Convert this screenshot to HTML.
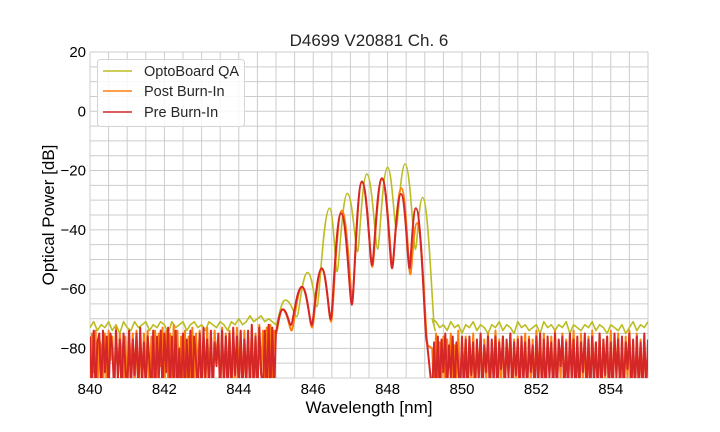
<!DOCTYPE html>
<html><head><meta charset="utf-8">
<style>
body{margin:0;background:#fff;}
svg{display:block;font-family:"Liberation Sans",Arial,sans-serif;}
</style></head>
<body>
<svg id="chart" width="720" height="432" viewBox="0 0 720 432">
  <rect width="720" height="432" fill="#fff"/>
  <g id="grid"></g>
  <g id="series" clip-path="url(#clip)"></g>
  <defs><clipPath id="clip"><rect x="90" y="52" width="558" height="326"/></clipPath></defs>
  <g id="ticks"></g>
  <text x="369" y="46" text-anchor="middle" font-size="17" fill="#262626">D4699 V20881 Ch. 6</text>
  <text x="369" y="413" text-anchor="middle" font-size="17" fill="#000">Wavelength [nm]</text>
  <text transform="translate(54,215) rotate(-90)" text-anchor="middle" font-size="17" fill="#000">Optical Power [dB]</text>
  <g>
    <rect x="97.5" y="59.5" width="147" height="67" rx="3" fill="#fff" fill-opacity="0.85" stroke="#d5d5d5"/>
    <g>
      <line x1="103" y1="71" x2="132" y2="71" stroke="#bcbd22" stroke-width="1.6"/>
      <text x="144" y="76" font-size="14.5" fill="#262626">OptoBoard QA</text>
    </g>
    <g>
      <line x1="103" y1="91" x2="132" y2="91" stroke="#ff7f0e" stroke-width="1.6"/>
      <text x="144" y="96" font-size="14.5" fill="#262626">Post Burn-In</text>
    </g>
    <g>
      <line x1="103" y1="112" x2="132" y2="112" stroke="#d62728" stroke-width="1.6"/>
      <text x="144" y="117" font-size="14.5" fill="#262626">Pre Burn-In</text>
    </g>
  </g>
</svg>
<script>
const xTickLabels=[840,842,844,846,848,850,852,854];
const yTickLabels=[20,0,-20,-40,-60,-80];
const qaPeakWl=[845.0,845.25,845.56,845.85,846.10,846.44,846.64,846.92,847.19,847.44,847.73,848.00,848.23,848.47,848.75,848.94,849.28];
const qaPeakDb=[-72,-63.7,-69.3,-54.4,-65.9,-32.7,-54.1,-27.7,-47.4,-21.2,-46.5,-18.9,-39.5,-17.8,-46.6,-29.1,-74];
const prePeakWl=[845.0,845.18,845.40,845.70,845.96,846.23,846.47,846.75,847.04,847.31,847.58,847.85,848.12,848.36,848.59,848.76,849.06];
const prePeakDb=[-74,-66.8,-72.1,-59.2,-72.1,-53,-70.2,-34.4,-65.3,-23.7,-51.9,-22.6,-53,-27.9,-53,-32.7,-78];
const postPeakWl=[845.0,845.18,845.42,845.70,845.97,846.23,846.48,846.77,847.05,847.31,847.59,847.85,848.13,848.37,848.61,848.79,849.08];
const postPeakDb=[-75,-67,-74,-59.5,-73,-53.5,-71,-33.5,-63,-24,-52.5,-23,-52,-26,-55,-37.8,-79];
const qaNoiseL=[-73,-71,-74,-72,-73,-71,-74,-72,-75,-71,-73,-74,-71,-73,-72,-71,-74,-72,-73,-71,-72,-75,-71,-73,-72,-71,-74,-72,-71,-73,-72,-74,-71,-72,-73,-71,-72,-74,-71,-72,-70,-72,-71,-69,-71,-70,-69,-71,-70,-71];
const qaNoiseR=[-70,-71,-73,-72,-74,-71,-73,-72,-75,-72,-73,-71,-74,-72,-73,-75,-72,-73,-71,-74,-72,-73,-75,-71,-73,-72,-74,-73,-72,-75,-71,-73,-72,-74,-72,-73,-71,-75,-72,-73,-74,-72,-73,-71,-74,-72,-73,-75,-72,-73,-74,-72,-75,-73,-71,-74,-72,-73,-71];
const preNoiseL=[-76,-95,-74,-95,-78,-75,-95,-74,-88,-76,-95,-75,-80,-95,-74,-90,-77,-95,-75,-86,-95,-74,-95,-77,-89,-75,-95,-73,-91,-78,-95,-76,-85,-95,-74,-95,-76,-90,-74,-95,-75,-88,-73,-95,-76,-92,-74,-95,-80,-95,
 -75,-95,-77,-93,-74,-95,-76,-84,-95,-75,-95,-73,-90,-77,-95,-74,-95,-78,-86,-75,-95,-74,-92,-76,-95,-75,-95,-73,-89,-76,-95,-74,-95,-77,-91,-74,-95,-72,-95,-76,-95,-73,-88,-95,-74,-95,-72,-95,-73,-95];
const preNoiseR=[-95,-78,-95,-76,-95,-77,-88,-75,-95,-79,-90,-76,-95,-78,-86,-95,-76,-95,-77,-95,-76,-89,-78,-95,-77,-91,-75,-95,-79,-88,-76,-95,-77,-92,-76,-95,-78,-87,-76,-95,-77,-90,-75,-95,-78,-89,-77,-95,-76,-92,-78,-95,-77,-88,-79,-95,-76,-93,-75,
 -95,-77,-95,-76,-90,-78,-95,-75,-95,-77,-86,-76,-95,-78,-95,-75,-91,-77,-95,-76,-95,-78,-88,-75,-95,-77,-95,-76,-92,-78,-95,-75,-95,-77,-89,-76,-95,-78,-95,-75,-90,-77,-95,-76,-95,-78,-87,-75,-95,-77,-95,-76,-93,-78,-95,-75,-95,-77];
const postNoiseL=[-92,-75,-88,-74,-95,-77,-80,-95,-75,-95,-74,-84,-76,-95,-73,-90,-75,-82,-95,-76,-95,-74,-87,-75,-95,-74,-92,-77,-95,-75,-89,-74,-95,-76,-92,-74,-95,-75,-86,-73,-95,-74,-92,-75,-95,-72,-90,-74,-95,-76,
 -95,-74,-90,-76,-95,-73,-95,-75,-88,-74,-95,-76,-95,-73,-91,-75,-95,-74,-85,-76,-95,-73,-95,-75,-90,-74,-95,-76,-95,-73,-87,-75,-95,-74,-95,-76,-92,-73,-95,-75,-95,-72,-89,-74,-95,-73,-95,-72,-90,-74];
const postNoiseR=[-80,-95,-75,-95,-78,-90,-76,-95,-77,-86,-75,-95,-79,-92,-74,-95,-78,-88,-76,-95,-77,-93,-75,-95,-79,-87,-76,-95,-77,-91,-75,-95,-78,-89,-74,-95,-77,-92,-76,-95,-78,-86,-75,-95,-77,-93,-76,-95,-78,-88,-75,-95,-76,-91,-77,-95,-74,-90,-76,
 -95,-75,-95,-77,-88,-76,-95,-74,-95,-78,-90,-75,-95,-77,-95,-76,-87,-74,-95,-78,-95,-75,-92,-77,-95,-76,-95,-74,-89,-78,-95,-75,-95,-77,-91,-76,-95,-74,-95,-78,-88,-75,-95,-77,-95,-76,-90,-74,-95,-78,-95,-75,-93,-77,-95,-76,-95];

const X0=90,X1=648,Y0=52,Y1=378,XMIN=840,XMAX=855,YMIN=-90,YMAX=20;
const xs=v=>X0+(v-XMIN)/(XMAX-XMIN)*(X1-X0);
const ys=v=>Y1-(v-YMIN)/(YMAX-YMIN)*(Y1-Y0);
const NS="http://www.w3.org/2000/svg";
const grid=document.getElementById('grid'),ticks=document.getElementById('ticks'),ser=document.getElementById('series');
for(let v=XMIN;v<=XMAX+1e-9;v+=0.5){
  const l=document.createElementNS(NS,'line');
  
  
  const x=xs(v);l.setAttribute('x1',x);l.setAttribute('x2',x);l.setAttribute('y1',Y0);l.setAttribute('y2',Y1);
  l.setAttribute('stroke','#cccccc');l.setAttribute('stroke-width','1');grid.appendChild(l);
}
for(let v=YMIN;v<=YMAX+1e-9;v+=5){
  const l=document.createElementNS(NS,'line');
  
  
  const y=ys(v);l.setAttribute('x1',X0);l.setAttribute('x2',X1);l.setAttribute('y1',y);l.setAttribute('y2',y);
  l.setAttribute('stroke','#cccccc');l.setAttribute('stroke-width','1');grid.appendChild(l);
}
xTickLabels.forEach(v=>{
  const t=document.createElementNS(NS,'text');
  
  
  t.setAttribute('x',xs(v));t.setAttribute('y',Y1+16);t.setAttribute('text-anchor','middle');t.setAttribute('font-size','15');
  t.textContent=v;ticks.appendChild(t);
});
yTickLabels.forEach(v=>{
  const t=document.createElementNS(NS,'text');
  
  
  t.setAttribute('x',X0-4);t.setAttribute('y',ys(v)+5);t.setAttribute('text-anchor','end');t.setAttribute('font-size','15');
  t.textContent=(v<0?'\u2212'+(-v):v);ticks.appendChild(t);
});
function buildPath(nl,wl,db,nr,step){
  let d='';
  nl.forEach((v,i)=>{d+=(i?'L':'M')+xs(840+i*step).toFixed(1)+','+ys(v).toFixed(1);});
  d+='L'+xs(wl[0]).toFixed(1)+','+ys(db[0]).toFixed(1);
  for(let i=1;i<wl.length;i++){
    const xa=xs(wl[i-1]),xb=xs(wl[i]),ya=ys(db[i-1]),yb=ys(db[i]);
    // rounded peaks, sharper troughs
    const fa=ya<yb?0.5:0.2, fb=yb<ya?0.5:0.2;
    d+='C'+(xa+(xb-xa)*fa).toFixed(1)+','+ya.toFixed(1)+' '+(xb-(xb-xa)*fb).toFixed(1)+','+yb.toFixed(1)+' '+xb.toFixed(1)+','+yb.toFixed(1);
  }
  nr.forEach((v,i)=>{d+='L'+xs(849.2+i*step).toFixed(1)+','+ys(v).toFixed(1);});
  return d;
}
function addSeries(name,color,nl,wl,db,nr,step,w){
  const p=document.createElementNS(NS,'path');
  
  
  p.setAttribute('d',buildPath(nl,wl,db,nr,step));
  p.setAttribute('fill','none');p.setAttribute('stroke',color);p.setAttribute('stroke-width',w);p.setAttribute('stroke-linejoin','round');
  ser.appendChild(p);
}
addSeries('optoboard-qa-line','#bcbd22',qaNoiseL,qaPeakWl,qaPeakDb,qaNoiseR,0.1,'1.6');
addSeries('post-burn-in-line','#ff7f0e',postNoiseL,postPeakWl,postPeakDb,postNoiseR,0.05,'2');
addSeries('pre-burn-in-line','#d62728',preNoiseL,prePeakWl,prePeakDb,preNoiseR,0.05,'2');
</script>
</body></html>
